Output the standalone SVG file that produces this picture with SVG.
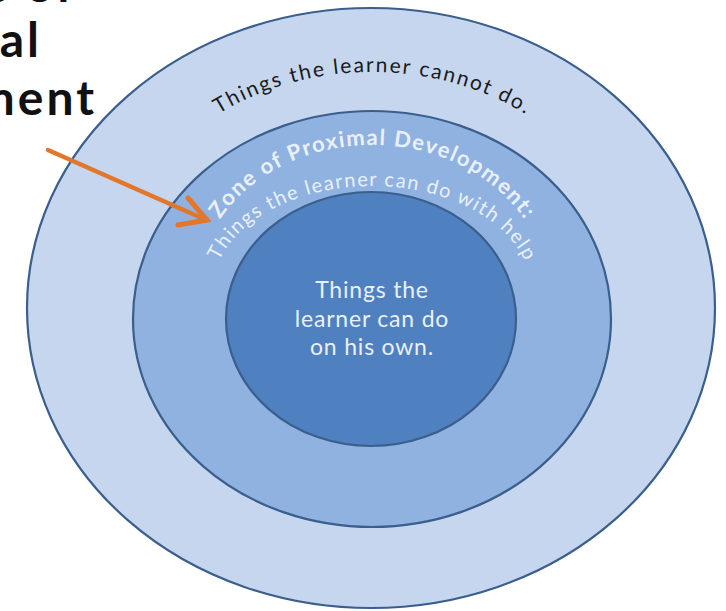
<svg xmlns="http://www.w3.org/2000/svg" xmlns:xlink="http://www.w3.org/1999/xlink" width="726" height="611" viewBox="0 0 726 611">
<style>
.ring{stroke:#3a5f8c;stroke-width:2.2}
.t{font-family:Lato,"Open Sans","Liberation Sans",sans-serif}
.title{font-family:Lato,"Open Sans","Liberation Sans",sans-serif;font-weight:bold;font-size:48px;fill:#111;letter-spacing:3px}
.light{fill:#e9f0fa}
</style>
<defs>
<path id="pOuter" d="M 122,272 A 250 200 0 0 1 622,272"/>
<path id="pBold" d="M 197,292 A 175 147 0 0 1 547,292"/>
<path id="pReg" d="M 212,292 A 160 106 0 0 1 532,292"/>
</defs>
<rect width="726" height="611" fill="#ffffff"/>
<g id="title">
<text class="title" x="76" y="2" text-anchor="end">Zone of</text>
<text class="title" x="42" y="57" text-anchor="end">Proximal</text>
<text class="title" x="97" y="115" text-anchor="end">Development</text>
</g>
<g id="outer">
<ellipse class="ring" cx="371" cy="308" rx="344" ry="300" fill="#c6d6ef"/>
<text class="t" font-size="21" fill="#1a1a1a"><textPath xlink:href="#pOuter" href="#pOuter" startOffset="50%" text-anchor="middle" textLength="322" lengthAdjust="spacing">Things the learner cannot do.</textPath></text>
</g>
<g id="middle">
<ellipse class="ring" cx="372" cy="319" rx="239" ry="208" fill="#8fb2e0"/>
<text class="t light" font-size="22" font-weight="bold"><textPath xlink:href="#pBold" href="#pBold" startOffset="50%" text-anchor="middle" textLength="352" lengthAdjust="spacing">Zone of Proximal Development:</textPath></text>
<text class="t light" font-size="20"><textPath xlink:href="#pReg" href="#pReg" startOffset="50%" text-anchor="middle" textLength="358" lengthAdjust="spacing">Things the learner can do with help</textPath></text>
</g>
<g id="inner">
<ellipse class="ring" cx="371" cy="319" rx="145" ry="127" fill="#4f80c0"/>
<text class="t light" font-size="23" text-anchor="middle" letter-spacing="0.8"><tspan x="372" y="298">Things the</tspan><tspan x="372" y="327">learner can do</tspan><tspan x="372" y="355">on his own.</tspan></text>
</g>
<g id="connectors">
<line x1="48" y1="150" x2="204" y2="219" stroke="#e2762b" stroke-width="4.5" stroke-linecap="round"/>
<polyline points="188,198 207,220 178,225" fill="none" stroke="#e2762b" stroke-width="5" stroke-linejoin="miter" stroke-linecap="round"/>
</g>
</svg>
